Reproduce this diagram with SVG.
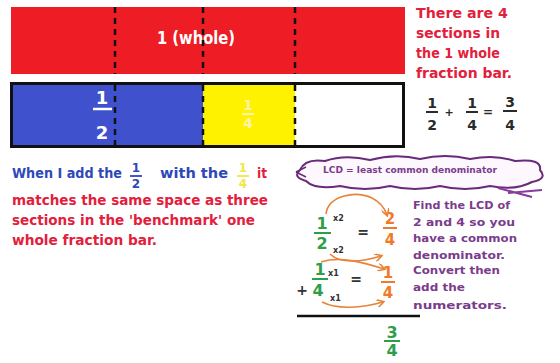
<svg xmlns="http://www.w3.org/2000/svg" width="560" height="363" viewBox="0 0 560 363">
<defs>
<style>
text{font-family:"DejaVu Sans","Liberation Sans",sans-serif;font-weight:bold}
.dash{stroke:#111;stroke-width:2.5;stroke-dasharray:6 5;fill:none}
.redt{fill:#e3203c;font-size:14px}
.bluet{fill:#2f48b8;font-size:14px}
.purt{fill:#7b3c8c;font-size:11px}
.grn{fill:#2e9e48;font-size:16px}
.org{fill:#f07a28;font-size:15px}
.dk{fill:#333;font-size:14px}
.sm{fill:#333;font-size:8px}
.arr{stroke:#e8843a;stroke-width:1.6;fill:none;marker-end:url(#ah)}
</style>
<marker id="ah" markerWidth="8" markerHeight="8" refX="6" refY="4" orient="auto" markerUnits="userSpaceOnUse">
<path d="M0,0 L7,4 L0,8" fill="none" stroke="#e8843a" stroke-width="1.6"/>
</marker>
</defs>
<rect width="560" height="363" fill="#fff"/>

<g id="whole-bar">
<rect x="11" y="7" width="394" height="67" fill="#ee1c24"/>
<text x="196" y="44" text-anchor="middle" fill="#fff" font-size="18" textLength="78" lengthAdjust="spacingAndGlyphs">1 (whole)</text>
</g>

<g id="parts-bar">
<rect x="11" y="83" width="192" height="64" fill="#3f51cc"/>
<rect x="203" y="83" width="92" height="64" fill="#fff200"/>
<rect x="295" y="83" width="108" height="64" fill="#fff"/>
<rect x="11.5" y="83.5" width="392" height="63" fill="none" stroke="#111" stroke-width="3"/>
<text x="102" y="104" text-anchor="middle" fill="#fff" font-size="18">1</text>
<line x1="93" y1="109" x2="112" y2="109" stroke="#fff" stroke-width="2.5"/>
<text x="102" y="139" text-anchor="middle" fill="#fff" font-size="18">2</text>
<text x="248" y="110" text-anchor="middle" fill="#fbf3a8" font-size="14">1</text>
<line x1="242" y1="114" x2="254" y2="114" stroke="#fbf3a8" stroke-width="2"/>
<text x="248" y="128" text-anchor="middle" fill="#fbf3a8" font-size="14">4</text>
</g>

<g id="dividers">
<line class="dash" x1="115" y1="7" x2="115" y2="74"/>
<line class="dash" x1="203" y1="7" x2="203" y2="74"/>
<line class="dash" x1="295" y1="7" x2="295" y2="74"/>
<line class="dash" x1="115" y1="85" x2="115" y2="146" stroke="#12226e"/>
<line class="dash" x1="203" y1="85" x2="203" y2="146"/>
<line class="dash" x1="295" y1="85" x2="295" y2="146"/>
</g>

<g id="sections-note">
<text class="redt" x="416" y="18" textLength="92" lengthAdjust="spacingAndGlyphs">There are 4</text>
<text class="redt" x="416" y="38" textLength="84" lengthAdjust="spacingAndGlyphs">sections in</text>
<text class="redt" x="416" y="58" textLength="84" lengthAdjust="spacingAndGlyphs">the 1 whole</text>
<text class="redt" x="416" y="78" textLength="96" lengthAdjust="spacingAndGlyphs">fraction bar.</text>
</g>

<g id="equation">
<text x="432" y="108" text-anchor="middle" font-size="14" fill="#2a2a2a">1</text>
<line x1="426" y1="112" x2="438" y2="112" stroke="#2a2a2a" stroke-width="2"/>
<text x="432" y="130" text-anchor="middle" font-size="14" fill="#2a2a2a">2</text>
<text x="449" y="116" text-anchor="middle" font-size="11" fill="#2a2a2a">+</text>
<text x="472" y="108" text-anchor="middle" font-size="14" fill="#2a2a2a">1</text>
<line x1="466" y1="112" x2="478" y2="112" stroke="#2a2a2a" stroke-width="2"/>
<text x="472" y="130" text-anchor="middle" font-size="14" fill="#2a2a2a">4</text>
<text x="488" y="116" text-anchor="middle" font-size="12" fill="#2a2a2a">=</text>
<text x="510" y="107" text-anchor="middle" font-size="14" fill="#2a2a2a">3</text>
<line x1="503" y1="111" x2="517" y2="111" stroke="#2a2a2a" stroke-width="2"/>
<text x="510" y="130" text-anchor="middle" font-size="14" fill="#2a2a2a">4</text>
</g>

<g id="explanation">
<text class="bluet" x="12" y="178" textLength="110" lengthAdjust="spacingAndGlyphs">When I add the</text>
<text x="136" y="172" text-anchor="middle" fill="#2f48b8" font-size="12">1</text>
<line x1="130" y1="176" x2="142" y2="176" stroke="#2f48b8" stroke-width="1.8"/>
<text x="136" y="188" text-anchor="middle" fill="#2f48b8" font-size="12">2</text>
<text class="bluet" x="160" y="178" textLength="68" lengthAdjust="spacingAndGlyphs">with the</text>
<text x="243" y="172" text-anchor="middle" fill="#f2e64a" font-size="12">1</text>
<line x1="237" y1="176" x2="249" y2="176" stroke="#f2e64a" stroke-width="1.8"/>
<text x="243" y="188" text-anchor="middle" fill="#f2e64a" font-size="12">4</text>
<text class="redt" x="257" y="178" textLength="10" lengthAdjust="spacingAndGlyphs">it</text>
<text class="redt" x="12" y="205" textLength="256" lengthAdjust="spacingAndGlyphs">matches the same space as three</text>
<text class="redt" x="12" y="225" textLength="243" lengthAdjust="spacingAndGlyphs">sections in the 'benchmark' one</text>
<text class="redt" x="12" y="245" textLength="145" lengthAdjust="spacingAndGlyphs">whole fraction bar.</text>
</g>

<g id="lcd-cloud">
<path d="M300 170 Q305 158 325 161 Q345 154 370 160 Q395 153 420 159 Q445 153 470 159 Q495 154 515 161 Q542 158 540 170 Q548 179 532 182 Q515 191 490 186 Q465 192 440 186 Q415 192 390 186 Q365 192 340 186 Q315 190 306 181 Q292 177 300 170 Z" fill="#fdf8fd" stroke="#6a2a7a" stroke-width="2"/>
<path d="M296 172 L306 167 M296 172 L306 177" fill="none" stroke="#6a2a7a" stroke-width="1.5"/>
<path d="M498 188 L532 197 M508 193 L542 190" fill="none" stroke="#8a3a9a" stroke-width="2"/>
<text x="323" y="173" fill="#7b3c8c" font-size="9" textLength="174" lengthAdjust="spacingAndGlyphs">LCD = least common denominator</text>
</g>

<g id="work">
<text class="grn" x="322" y="229" text-anchor="middle">1</text>
<line x1="314" y1="233" x2="331" y2="233" stroke="#2e9e48" stroke-width="2"/>
<text class="grn" x="322" y="249" text-anchor="middle">2</text>
<text class="sm" x="333" y="221">x2</text>
<text class="sm" x="333" y="253">x2</text>
<text class="dk" x="363" y="237" text-anchor="middle">=</text>
<text class="org" x="390" y="224" text-anchor="middle">2</text>
<line x1="383" y1="228" x2="397" y2="228" stroke="#f07a28" stroke-width="2"/>
<text class="org" x="390" y="245" text-anchor="middle">4</text>

<text class="grn" x="320" y="275" text-anchor="middle">1</text>
<text class="sm" x="328" y="276">x1</text>
<line x1="312" y1="279" x2="328" y2="279" stroke="#2e9e48" stroke-width="2"/>
<text class="grn" x="318" y="296" text-anchor="middle">4</text>
<text class="sm" x="330" y="301">x1</text>
<text class="dk" x="302" y="295" text-anchor="middle" font-size="12">+</text>
<text class="dk" x="356" y="284" text-anchor="middle">=</text>
<text class="org" x="388" y="278" text-anchor="middle">1</text>
<line x1="381" y1="282" x2="395" y2="282" stroke="#f07a28" stroke-width="2"/>
<text class="org" x="388" y="298" text-anchor="middle">4</text>

<line x1="297" y1="316" x2="420" y2="316" stroke="#111" stroke-width="2.5"/>
<text class="grn" x="392" y="338" text-anchor="middle">3</text>
<line x1="384" y1="341" x2="400" y2="341" stroke="#2e9e48" stroke-width="2"/>
<text class="grn" x="392" y="356" text-anchor="middle">4</text>
</g>

<g id="connectors">
<path class="arr" d="M326 214 C328 196 355 190 372 198 C382 203 385 209 387 215"/>
<path class="arr" d="M330 254 C340 264 362 262 381 256"/>
<path class="arr" d="M321 262 C340 256 362 262 384 269"/>
<path class="arr" d="M322 302 C338 310 362 308 383 302"/>
</g>

<g id="lcd-steps">
<text class="purt" x="413" y="209" textLength="97" lengthAdjust="spacingAndGlyphs">Find the LCD of</text>
<text class="purt" x="413" y="226" textLength="102" lengthAdjust="spacingAndGlyphs">2 and 4 so you</text>
<text class="purt" x="413" y="242" textLength="104" lengthAdjust="spacingAndGlyphs">have a common</text>
<text class="purt" x="413" y="259" textLength="92" lengthAdjust="spacingAndGlyphs">denominator.</text>
<text class="purt" x="413" y="274" textLength="87" lengthAdjust="spacingAndGlyphs">Convert then</text>
<text class="purt" x="413" y="291" textLength="52" lengthAdjust="spacingAndGlyphs">add the</text>
<text class="purt" x="413" y="309" textLength="94" lengthAdjust="spacingAndGlyphs">numerators.</text>
</g>
</svg>
